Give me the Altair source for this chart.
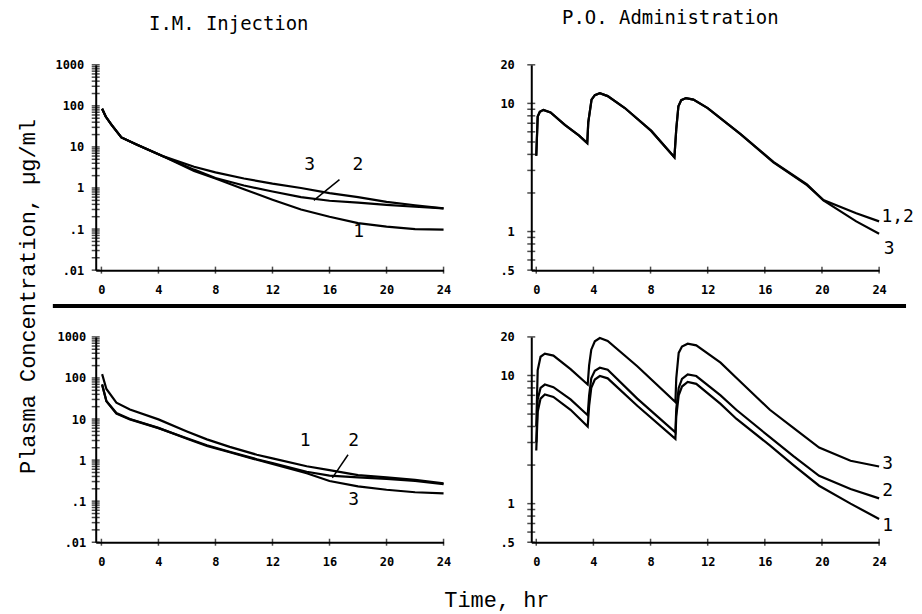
import altair as alt
import pandas as pd

# ---------------- data ----------------
# I.M. injection, upper panel
im_top_t = [0.05, 0.3, 0.7, 1.4, 2.5, 4.4, 6.5, 8, 10, 12, 14, 16, 18, 20, 22, 24]
im_top_1 = [85, 55, 35, 17, 11.3, 5.8, 2.6, 1.7, 0.93, 0.52, 0.30, 0.20, 0.14, 0.115, 0.10, 0.097]
im_top_2 = [85, 55, 35, 17, 11.3, 5.8, 2.8, 1.75, 1.15, 0.82, 0.60, 0.49, 0.44, 0.39, 0.35, 0.32]
im_top_3 = [85, 55, 35, 17, 11.3, 5.8, 3.3, 2.4, 1.7, 1.28, 1.0, 0.75, 0.60, 0.46, 0.38, 0.32]

# I.M. injection, lower panel
im_bot_t = [0.05, 0.35, 1.05, 2, 4, 6, 7.4, 9, 10.9, 12, 14.4, 16, 18, 20, 22, 24]
im_bot_1 = [124, 54, 25, 17, 9.8, 5.0, 3.2, 2.1, 1.35, 1.1, 0.71, 0.57, 0.43, 0.38, 0.33, 0.27]
im_bot_2 = [68, 27, 13.5, 9.8, 6.0, 3.4, 2.3, 1.6, 1.05, 0.85, 0.52, 0.42, 0.38, 0.35, 0.31, 0.26]
im_bot_3 = [70, 27.5, 14, 10, 6.1, 3.3, 2.2, 1.55, 1.02, 0.81, 0.48, 0.31, 0.23, 0.19, 0.165, 0.155]

# P.O. administration, upper panel
po_top_t = [0, 0.1, 0.25, 0.5, 1.0, 2.0, 3.0, 3.57, 3.64, 3.87, 4.1, 4.45, 5.0, 6.2, 8.05,
            9.67, 9.8, 9.95, 10.15, 10.48, 11.0, 12.0, 14.3, 16.6, 18.95, 20.1, 22.4, 24]
po_top_12 = [3.9, 7.9, 8.6, 8.9, 8.5, 6.8, 5.6, 4.9, 7.1, 10.7, 11.6, 12.0, 11.4, 9.2, 6.1,
             3.8, 6.3, 9.5, 10.6, 11.0, 10.7, 9.2, 5.75, 3.47, 2.3, 1.76, 1.39, 1.2]
po_top_3 = [3.9, 7.9, 8.6, 8.9, 8.5, 6.8, 5.6, 4.9, 7.1, 10.7, 11.6, 12.0, 11.4, 9.2, 6.1,
            3.8, 6.3, 9.5, 10.6, 11.0, 10.7, 9.2, 5.75, 3.5, 2.33, 1.75, 1.2, 0.96]

# P.O. administration, lower panel
po_bot_t = [0, 0.1, 0.3, 0.6, 1.2, 2.4, 3.6, 3.7, 3.85, 4.1, 4.45, 5.0, 7.07, 9.74, 9.8,
            9.97, 10.2, 10.6, 11.2, 12.9, 14, 16.35, 18, 19.8, 22, 24]
po_bot_1 = [2.6, 5.2, 6.6, 7.1, 6.8, 5.4, 4.0, 5.8, 8.0, 9.3, 9.9, 9.5, 5.8, 3.2, 4.8,
            7.0, 8.2, 8.9, 8.6, 6.0, 4.6, 2.85, 2.0, 1.38, 1.0, 0.76]
po_bot_2 = [3.0, 6.5, 8.0, 8.5, 8.1, 6.5, 4.9, 7.0, 9.5, 10.9, 11.5, 11.1, 6.6, 3.6, 5.5,
            8.0, 9.4, 10.2, 9.9, 7.0, 5.4, 3.3, 2.35, 1.65, 1.3, 1.1]
po_bot_3 = [4.0, 11.0, 14.0, 14.8, 14.3, 11.2, 8.5, 12.0, 15.9, 18.5, 19.6, 18.6, 11.8, 6.2, 9.5,
            15.0, 16.8, 17.7, 17.2, 12.6, 9.6, 5.4, 3.9, 2.74, 2.16, 1.95]

# curve labels (text, time, concentration)
im_top_labels = [("3", 14.6, 3.6), ("2", 18.0, 3.6), ("1", 18.05, 0.083)]
im_bot_labels = [("1", 14.3, 2.9), ("2", 17.7, 2.9), ("3", 17.7, 0.107)]
po_top_labels = [("1,2", 25.3, 1.31), ("3", 24.7, 0.73)]
po_bot_labels = [("3", 24.6, 2.03), ("2", 24.6, 1.26), ("1", 24.6, 0.67)]
# leader lines to curve 2 (x1, y1, x2, y2)
im_top_arrow = [(16.7, 1.6, 14.9, 0.5)]
im_bot_arrow = [(17.3, 1.35, 16.2, 0.37)]

# axis ticks
x_ticks = [0, 4, 8, 12, 16, 20, 24]
im_y_ticks = [k * 10.0 ** e for e in range(-2, 3) for k in range(1, 10)] + [1000]
po_y_ticks = [0.5, 0.6, 0.7, 0.8, 0.9, 1, 2, 3, 4, 5, 6, 7, 8, 9, 10, 20]
im_y_domain = [0.01, 1000]
po_y_domain = [0.5, 20]

im_label_expr = ("datum.value == 0.01 ? '.01' : datum.value == 0.1 ? '.1' : "
                 "(datum.value == 1 || datum.value == 10 || datum.value == 100 || datum.value == 1000)"
                 " ? format(datum.value, 'd') : ''")
po_label_expr = ("datum.value == 0.5 ? '.5' : (datum.value == 1 || datum.value == 10 || datum.value == 20)"
                 " ? format(datum.value, 'd') : ''")

W, H = 349, 206
TICK_FONT = "DejaVu Sans Mono"
MONO = "Liberation Mono"


def long_df(t, series):
    rows = []
    for name, vals in series.items():
        for ti, v in zip(t, vals):
            rows.append({"t": ti, "c": v, "s": name})
    return pd.DataFrame(rows)


def panel(t, series, ydomain, yticks, label_expr, xdomain, labels, arrows=None,
          ylabel_pad=12, title=None, xaxis_extra=None, yaxis_extra=None, extra=None):
    xs = alt.Scale(domain=xdomain, nice=False, zero=False)
    ys = alt.Scale(type="log", domain=ydomain, nice=False)
    xaxis_kw = dict(values=x_ticks, labelFont=TICK_FONT, labelFontSize=12, labelFontWeight="bold",
                    labelColor="black", labelPadding=14, ticks=False, grid=False, domainColor="black",
                    domainWidth=2, labelFlush=False, title=None)
    if xaxis_extra:
        xaxis_kw.update(xaxis_extra)
    yaxis_kw = dict(values=yticks, labelExpr=label_expr, labelFont=TICK_FONT, labelFontSize=12,
                    labelFontWeight="bold", labelColor="black", labelPadding=ylabel_pad, ticks=False,
                    grid=False, domainColor="black", domainWidth=2, labelOverlap=False,
                    labelFlush=False, title=None)
    if yaxis_extra:
        yaxis_kw.update(yaxis_extra)
    xax = alt.Axis(**xaxis_kw)
    yax = alt.Axis(**yaxis_kw)

    lines = alt.Chart(long_df(t, series)).mark_line(color="black", strokeWidth=2.2).encode(
        x=alt.X("t:Q", scale=xs, axis=xax),
        y=alt.Y("c:Q", scale=ys, axis=yax),
        detail="s:N",
    )
    yt = alt.Chart(pd.DataFrame({"v": yticks})).mark_tick(
        orient="horizontal", color="black", thickness=1.5, size=8).encode(
        y=alt.Y("v:Q", scale=ys, axis=yax), x=alt.value(0))
    xt = alt.Chart(pd.DataFrame({"v": x_ticks})).mark_tick(
        orient="vertical", color="black", thickness=1.5, size=7).encode(
        x=alt.X("v:Q", scale=xs, axis=xax), y=alt.value(H))
    lab = alt.Chart(pd.DataFrame(labels, columns=["txt", "t", "c"])).mark_text(
        font="DejaVu Sans Mono", fontSize=18, color="black", align="center", baseline="middle").encode(
        x=alt.X("t:Q", scale=xs, axis=xax), y=alt.Y("c:Q", scale=ys, axis=yax), text="txt:N")
    layers = [lines, yt, xt, lab]
    if arrows:
        ar = alt.Chart(pd.DataFrame(arrows, columns=["x1", "y1", "x2", "y2"])).mark_rule(
            color="black", strokeWidth=1.5).encode(
            x=alt.X("x1:Q", scale=xs, axis=xax), y=alt.Y("y1:Q", scale=ys, axis=yax),
            x2="x2:Q", y2="y2:Q")
        layers.append(ar)
    if extra is not None:
        layers.append(extra)
    ch = alt.layer(*layers).properties(width=W, height=H)
    if title is not None:
        ch = ch.properties(title=title)
    return ch


divider = alt.Chart(pd.DataFrame({"a": [0]})).mark_rule(color="black", strokeWidth=4).encode(
    x=alt.value(-43), x2=alt.value(813), y=alt.value(242))

tl = panel(im_top_t, {"1": im_top_1, "2": im_top_2, "3": im_top_3}, im_y_domain, im_y_ticks,
           im_label_expr, [-0.4, 24], im_top_labels, im_top_arrow, ylabel_pad=12,
           title=alt.TitleParams("I.M. Injection", font="DejaVu Sans Mono", fontSize=19,
                                 fontWeight="normal", color="black", dx=-41, offset=10,
                                 anchor="middle", frame="group", baseline="alphabetic"),
           extra=divider)
tr = panel(po_top_t, {"1,2": po_top_12, "3": po_top_3}, po_y_domain, po_y_ticks,
           po_label_expr, [-0.35, 24], po_top_labels, ylabel_pad=17,
           title=alt.TitleParams("P.O. Administration", font="DejaVu Sans Mono", fontSize=19,
                                 fontWeight="normal", color="black", dx=-35, offset=16,
                                 anchor="middle", frame="group", baseline="alphabetic"))
bl = panel(im_bot_t, {"1": im_bot_1, "2": im_bot_2, "3": im_bot_3}, im_y_domain, im_y_ticks,
           im_label_expr, [-0.4, 24], im_bot_labels, im_bot_arrow, ylabel_pad=10,
           yaxis_extra=dict(title="Plasma Concentration, µg/ml", titleFont=MONO, titleFontSize=22,
                            titleFontWeight="normal", titleColor="black", titleAngle=270,
                            titleX=-68, titleY=-41, titleAlign="center", titleBaseline="middle"),
           xaxis_extra=dict(title="Time, hr", titleFont=MONO, titleFontSize=22,
                            titleFontWeight="normal", titleColor="black",
                            titleX=402, titleY=57, titleAlign="center", titleBaseline="middle"))
br = panel(po_bot_t, {"1": po_bot_1, "2": po_bot_2, "3": po_bot_3}, po_y_domain, po_y_ticks,
           po_label_expr, [-0.35, 24], po_bot_labels, ylabel_pad=17)

chart = alt.concat(tl, tr, bl, br, columns=2, spacing={"row": 67, "column": 88},
                   bounds="flush").properties(
    padding={"left": 8, "top": 0, "right": 0, "bottom": 0}, background="white"
).configure_view(stroke=None)

chart.save("out.html", embed_options={"renderer": "svg", "actions": False})
